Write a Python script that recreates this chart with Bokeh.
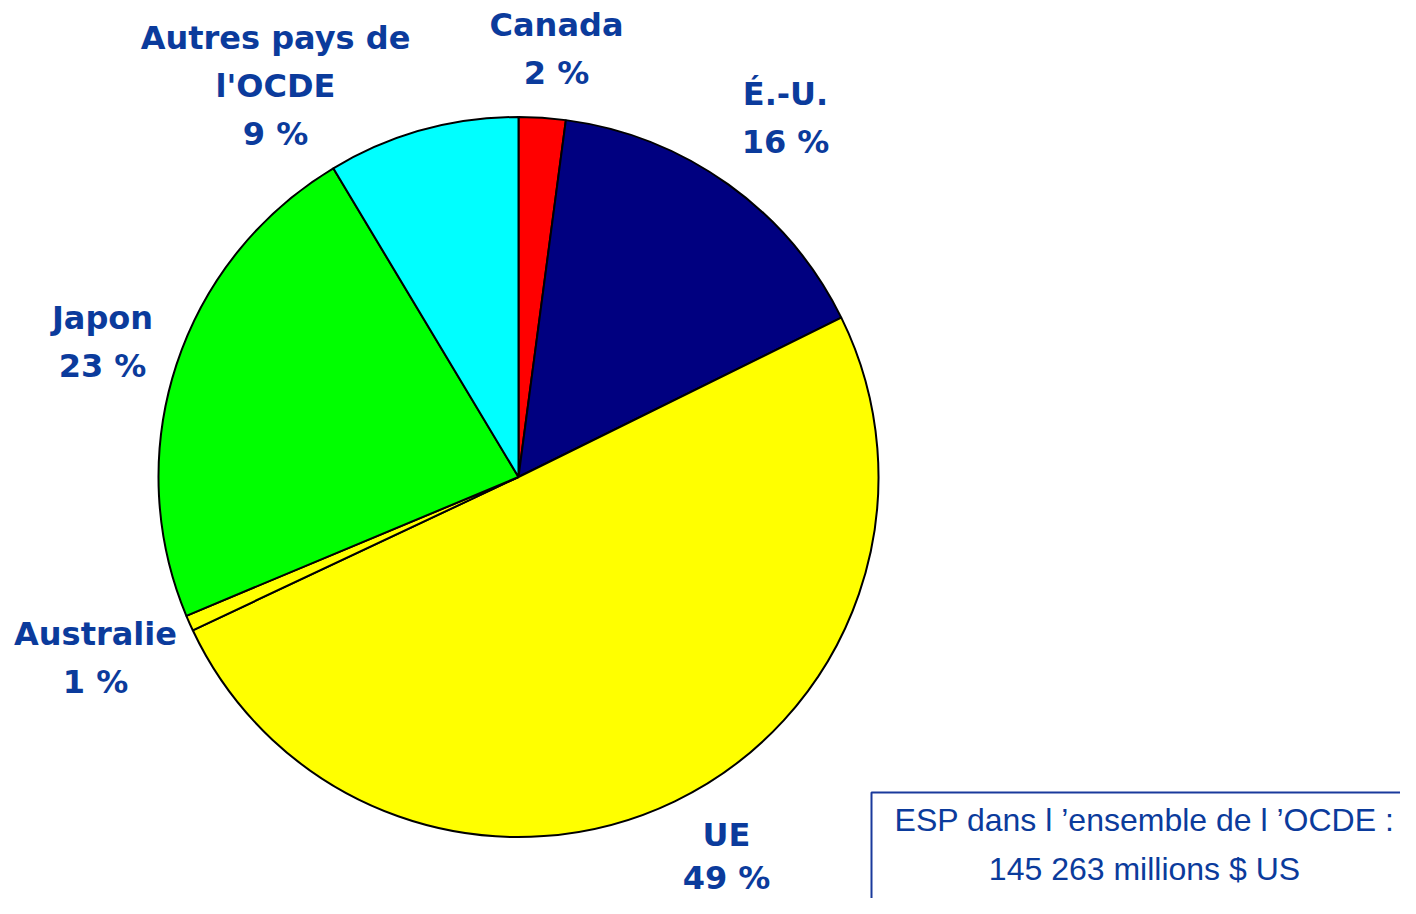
import math
from bokeh.plotting import figure
from bokeh.models import Range1d
from bokeh.embed import file_html
from bokeh.resources import INLINE
from bokeh.core.properties import value

# ---- data ----
regions = ["Canada", "É.-U.", "UE", "Australie", "Japon", "Autres pays de l'OCDE"]
name_lines = [["Canada"], ["É.-U."], ["UE"], ["Australie"], ["Japon"], ["Autres pays de", "l'OCDE"]]
shares = [2.1, 15.6, 50.3, 0.7, 22.7, 8.6]          # % of total, clockwise from 12 o'clock
pct_labels = ["2 %", "16 %", "49 %", "1 %", "23 %", "9 %"]
total_lines = ["ESP dans l \u2019ensemble de l \u2019OCDE :", "145 263 millions $ US"]

# ---- styles / layout ----
colors = ["#FF0000", "#000080", "#FFFF00", "#FFFF00", "#00FF00", "#00FFFF"]
TXT = "#0B3B9C"
W, H = 1400, 898
CX, CY, R = 518, 476.5, 360          # pixel centre and radius of the pie
# label anchor (pixels): centre x, baseline of first line, line gap
label_pos = [(556, 24, 48), (785, 93, 48), (726, 834, 43), (95, 633, 48), (102, 317, 48), (275, 37, 48)]


def Y(py):
    # pixel y (from top) -> data y (data units are pixels, y up)
    return H - py


p = figure(width=W, height=H, output_backend="svg", toolbar_location=None,
           x_range=Range1d(0, W), y_range=Range1d(0, H),
           min_border=0, outline_line_color=None, background_fill_color="white",
           border_fill_color="white")
p.axis.visible = False
p.grid.visible = False

# ---- pie wedges ----
total = sum(shares)
cum = 0.0
starts, ends = [], []
for s in shares:
    starts.append(math.pi / 2 - 2 * math.pi * cum / total)
    cum += s
    ends.append(math.pi / 2 - 2 * math.pi * cum / total)

p.wedge(x=[CX] * len(shares), y=[Y(CY)] * len(shares), radius=R,
        start_angle=starts, end_angle=ends, direction="clock",
        fill_color=colors, line_color="black", line_width=2)

# ---- labels ----
lx, ly, lt = [], [], []
for (x0, b0, gap), names, pct in zip(label_pos, name_lines, pct_labels):
    lines = names + [pct]
    for i, t in enumerate(lines):
        lx.append(x0)
        ly.append(Y(b0 + i * gap))
        lt.append(t)
p.text(x=lx, y=ly, text=lt, text_align="center", text_baseline="alphabetic",
       text_font=value("DejaVu Sans"), text_font_style="bold",
       text_font_size="32px", text_color=TXT)

# ---- total box ----
p.line(x=[871, 871, 1440], y=[Y(940), Y(792), Y(792)], line_color="#1A3A9C", line_width=2)
p.text(x=[1144, 1144], y=[Y(819), Y(868)], text=total_lines, text_align="center",
       text_baseline="alphabetic", text_font=value("Liberation Sans"),
       text_font_size="32px", text_color=TXT)

open("out.html", "w").write(file_html(p, INLINE))
